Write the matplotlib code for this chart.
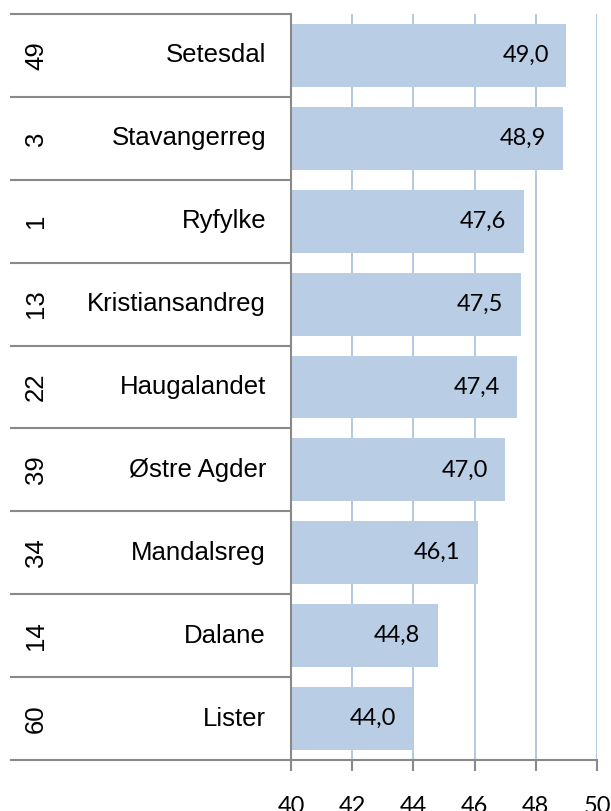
import matplotlib
matplotlib.use("Agg")
import matplotlib.pyplot as plt
import matplotlib.transforms as mtransforms

# data, top to bottom
regioner = ["Setesdal", "Stavangerreg", "Ryfylke", "Kristiansandreg", "Haugalandet",
            "Østre Agder", "Mandalsreg", "Dalane", "Lister"]
rang = [49, 3, 1, 13, 22, 39, 34, 14, 60]
verdier = [49.0, 48.9, 47.6, 47.5, 47.4, 47.0, 46.1, 44.8, 44.0]
xticks = [40, 42, 44, 46, 48, 50]

bar_farge = "#B9CDE5"
grid_farge = "#B4C8E2"
graa = "#898989"

fig = plt.figure(figsize=(6.11, 8.11), dpi=100)
ax = fig.add_axes([291/611, 1 - 760/811, 306/611, 746/811])

y = list(range(len(regioner)))
ax.barh(y, verdier, height=0.76, color=bar_farge, zorder=2)

ax.set_xlim(40, 50)
ax.set_ylim(len(regioner) - 0.5, -0.5)
ax.set_xticks(xticks)
ax.set_xticklabels([str(t) for t in xticks], family="Lato", fontsize=17)
ax.set_yticks([])
ax.tick_params(axis="x", length=8, width=1.5, color=graa, pad=18)

for t in xticks[1:]:
    ax.axvline(t, color=grid_farge, lw=1.4, zorder=1)

for s in ["top", "right"]:
    ax.spines[s].set_visible(False)
for s in ["left", "bottom"]:
    ax.spines[s].set_color(graa)
    ax.spines[s].set_linewidth(1.5)
    ax.spines[s].set_zorder(3)

trans = mtransforms.blended_transform_factory(ax.transAxes, ax.transData)
x0 = (11 - 291) / 306
for i in range(len(regioner) + 1):
    ax.plot([x0, 0], [i - 0.5, i - 0.5], transform=trans, color=graa, lw=1.5,
            clip_on=False, zorder=3)

for i, (navn, r, v) in enumerate(zip(regioner, rang, verdier)):
    ax.text((266 - 291) / 306, i, navn, transform=trans, ha="right", va="center",
            fontsize=18.5, family="Liberation Sans")
    ax.text((36 - 291) / 306, i, str(r), transform=trans, ha="center", va="center",
            rotation=90, fontsize=18.5, family="Liberation Sans")
    ax.text(v - 0.57, i, f"{v:.1f}".replace(".", ","), ha="right", va="center",
            fontsize=17, family="Lato", zorder=4)

fig.savefig("out.png", dpi=100)
